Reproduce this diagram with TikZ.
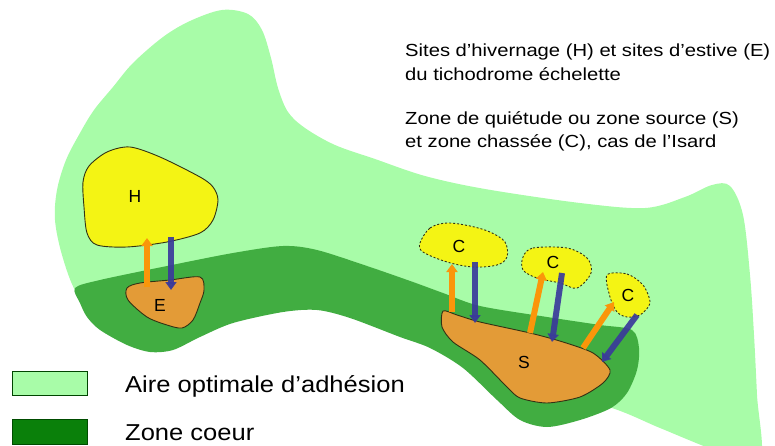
\documentclass[tikz,border=0pt]{standalone}
\usepackage{fontspec}
\usepackage{graphicx}
\setmainfont{Liberation Sans}
\usetikzlibrary{arrows.meta}
\definecolor{lgreen}{RGB}{168,252,168}
\definecolor{dgreen}{RGB}{65,173,65}
\definecolor{yblob}{RGB}{244,244,20}
\definecolor{oblob}{RGB}{227,155,55}
\definecolor{oarrow}{RGB}{250,150,10}
\definecolor{barrow}{RGB}{58,58,155}
\definecolor{legdark}{RGB}{10,128,10}
\definecolor{outl}{RGB}{50,50,20}
\tikzset{
  zone/.style={draw=outl, line width=0.9pt},
  chase/.style={draw=outl, line width=0.9pt, dash pattern=on 2pt off 2pt},
  lbl/.style={font=\fontsize{17.5}{17.5}\selectfont, inner sep=0pt},
  upar/.style={draw=oarrow, line width=6pt, -{Triangle[width=11pt,length=8pt]}},
  dnar/.style={draw=barrow, opacity=0.92, line width=6pt, -{Triangle[width=11pt,length=8pt]}},
  info/.style={font=\fontsize{17.5}{17.5}\selectfont, anchor=base west, inner sep=0pt},
  legtxt/.style={font=\fontsize{23}{23}\selectfont, anchor=base west, inner sep=0pt},
}
\begin{document}
\begin{tikzpicture}[x=1pt,y=-1pt]
\useasboundingbox (0,0) rectangle (775,446);
\begin{scope}
\clip (0,0) rectangle (775,446);
% light green area
\fill[lgreen] plot[smooth cycle, tension=0.55] coordinates {
 (76,292) (62,255) (55,220) (57,190) (66,160) (80,133) (94,110) (113,87)
 (133,63) (163,37) (190,21) (222,10) (248,14) (262,30) (271,58) (278,88)
 (288,112) (305,128) (335,145) (375,159) (425,176) (485,189) (580,203)
 (645,208) (685,197) (712,185) (730,186) (743,215) (750,275) (754,335)
 (757,395) (760,460) (720,452) (660,428) (612,408) (520,380) (420,335)
 (300,305) (180,325) (100,318)};
% dark green band
\fill[dgreen] plot[smooth cycle, tension=0.5] coordinates {
 (75,288) (100,280) (167,266) (233,253) (283,246) (317,250) (367,266)
 (413,282) (443,293) (480,306) (547,317) (600,325) (632,330) (639,348)
 (637,370) (627,393) (611,408) (580,420) (547,427) (520,420) (497,400)
 (463,368) (430,348) (400,337) (350,318) (317,310) (283,312) (233,323)
 (200,337) (173,350) (150,352) (127,345) (100,330) (87,317) (80,303)};
\end{scope}
% blobs
\fill[yblob] plot[smooth cycle, tension=0.5] coordinates {
 (130,147) (107,152) (89,166) (83,182) (84,207) (87,233) (97,245) (127,247)
 (167,242) (200,233) (213,220) (218,200) (213,187) (200,177) (160,157)};
\draw[zone] plot[smooth cycle, tension=0.5] coordinates {
 (130,147) (107,152) (89,166) (83,182) (84,207) (87,233) (97,245) (127,247)
 (167,242) (200,233) (213,220) (218,200) (213,187) (200,177) (160,157)};
\filldraw[fill=oblob, zone] plot[smooth cycle, tension=0.5] coordinates {
 (127,288) (140,283) (170,280) (200,277) (204,290) (200,303) (193,320)
 (182,328) (167,325) (147,317) (128,300)};
\filldraw[fill=yblob, chase] plot[smooth cycle, tension=0.55] coordinates {
 (420,243) (430,228) (447,223) (470,226) (490,232) (505,242) (507,257)
 (497,265) (473,267) (447,262) (423,252)};
\filldraw[fill=yblob, chase] plot[smooth cycle, tension=0.55] coordinates {
 (523,257) (533,248) (567,248) (587,258) (591,273) (577,288) (560,283)
 (537,278) (523,270)};
\filldraw[fill=yblob, chase] plot[smooth cycle, tension=0.5] coordinates {
 (607,275) (627,274) (643,285) (650,303) (640,315) (627,317) (617,312)
 (610,297)};
\filldraw[fill=oblob, zone] plot[smooth cycle, tension=0.45] coordinates {
 (443,311) (457,315) (480,322) (530,333) (563,342) (593,353) (610,370)
 (603,383) (580,397) (547,403) (520,398) (507,387) (480,360) (453,342)
 (442,327)};
% labels
\node[lbl] (H) at (135,196) {H};
\node[lbl] (E) at (160,305) {E};
\node[lbl] (C1) at (459,246) {C};
\node[lbl] (C2) at (553,262) {C};
\node[lbl] (C3) at (628,295) {C};
\node[lbl] (S) at (524,362) {S};
% arrow end points
\coordinate (oHs) at (147,287); \coordinate (oHe) at (147,238);
\coordinate (bHs) at (171,237); \coordinate (bHe) at (171,290);
\coordinate (o1s) at (452,312); \coordinate (o1e) at (452,264);
\coordinate (b1s) at (475,262); \coordinate (b1e) at (475,323);
\coordinate (o2s) at (530,333); \coordinate (o2e) at (543,272);
\coordinate (b2s) at (562,273); \coordinate (b2e) at (552,342);
\coordinate (o3s) at (583,348); \coordinate (o3e) at (614,302);
\coordinate (b3s) at (637,315); \coordinate (b3e) at (602,362);
\draw[upar] (oHs) -- (oHe);
\draw[dnar] (bHs) -- (bHe);
\draw[upar] (o1s) -- (o1e);
\draw[dnar] (b1s) -- (b1e);
\draw[upar] (o2s) -- (o2e);
\draw[dnar] (b2s) -- (b2e);
\draw[upar] (o3s) -- (o3e);
\draw[dnar] (b3s) -- (b3e);
% info text
\node[info] (t1) at (405,57) {\scalebox{1.155}[1]{Sites d'hivernage (H) et sites d'estive (E)}};
\node[info] (t2) at (405,81) {\scalebox{1.155}[1]{du tichodrome échelette}};
\node[info] (t3) at (405,125) {\scalebox{1.155}[1]{Zone de quiétude ou zone source (S)}};
\node[info] (t4) at (405,148) {\scalebox{1.155}[1]{et zone chassée (C), cas de l'Isard}};
% legend
\filldraw[fill=lgreen, draw=black!55!green!60!black, line width=1pt] (12.5,371) rectangle (87,395.5);
\filldraw[fill=legdark, draw=black!70!green, line width=1pt] (12.5,419) rectangle (87,444);
\node[legtxt] (l1) at (125,392) {\scalebox{1.11}[1]{Aire optimale d'adhésion}};
\node[legtxt] (l2) at (125,440) {\scalebox{1.11}[1]{Zone coeur}};
\end{tikzpicture}
\end{document}
